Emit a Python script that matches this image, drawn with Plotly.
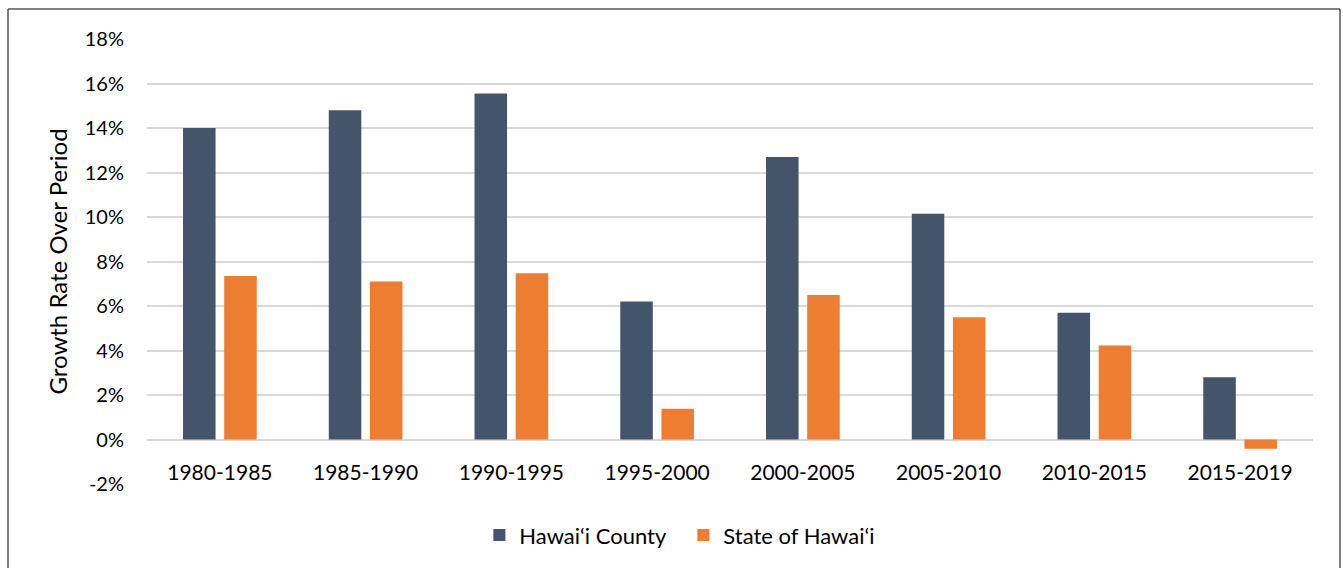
import plotly.graph_objects as go

periods = ["1980-1985", "1985-1990", "1990-1995", "1995-2000",
           "2000-2005", "2005-2010", "2010-2015", "2015-2019"]
hawaii_county = [14.0, 14.8, 15.55, 6.2, 12.7, 10.15, 5.7, 2.8]
state_of_hawaii = [7.35, 7.1, 7.47, 1.38, 6.5, 5.5, 4.23, -0.42]
y_ticks = [-2, 0, 2, 4, 6, 8, 10, 12, 14, 16, 18]
y_tick_labels = [f"{v}%" for v in y_ticks]

FONT = "Lato, Carlito, Calibri, sans-serif"

fig = go.Figure()
fig.add_trace(go.Bar(x=periods, y=hawaii_county, name="Hawai‘i County",
                     marker=dict(color="#44546A", line=dict(width=0))))
fig.add_trace(go.Bar(x=periods, y=state_of_hawaii, name="State of Hawai‘i",
                     marker=dict(color="#ED7D31", line=dict(width=0))))

fig.update_layout(
    width=1343, height=568,
    margin=dict(l=147, r=30, t=39, b=84),
    paper_bgcolor="white", plot_bgcolor="white",
    barmode="group", bargap=0.435, bargroupgap=0.21,
    font=dict(family=FONT, size=20, color="#000000"),
    showlegend=True,
    legend=dict(orientation="h", x=0.460, xanchor="center", y=-0.115, yanchor="middle",
                font=dict(size=22), itemwidth=30, traceorder="normal",
                entrywidth=159, entrywidthmode="pixels"),
    xaxis=dict(anchor="free", position=0.1, showline=False, ticks="",
               showgrid=False, ticklabelstandoff=18,
               tickfont=dict(size=21)),
    yaxis=dict(range=[-2, 18], tickvals=y_ticks, ticktext=y_tick_labels,
               showgrid=True, gridcolor="#D9D9D9", gridwidth=1.5,
               zeroline=True, zerolinecolor="#D9D9D9", zerolinewidth=1.5,
               showline=False, ticks="", ticklabelstandoff=22,
               title=dict(text="Growth Rate Over Period", font=dict(size=24), standoff=10),
               tickfont=dict(size=20)),
    shapes=[dict(type="rect", xref="paper", yref="paper",
                 x0=(8 - 147) / 1166, x1=(1340 - 147) / 1166,
                 y0=-0.25, y1=(484 - 9) / 445,
                 line=dict(color="black", width=1), fillcolor="rgba(0,0,0,0)", layer="below")],
)

fig.write_html("out.html", config={"displayModeBar": False},
               post_script="document.body.style.margin='0';document.body.style.overflow='hidden';")
